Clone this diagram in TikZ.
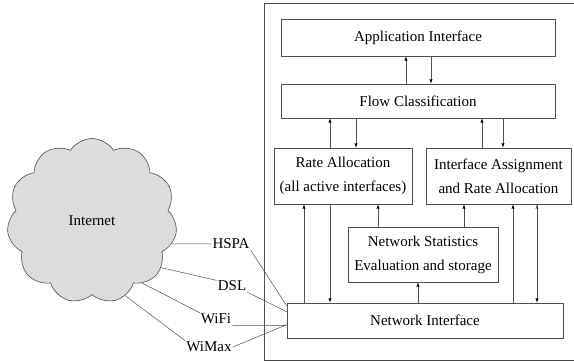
\documentclass[tikz,border=0pt]{standalone}
\usepackage{fontspec}
\setmainfont{Liberation Serif}
\usetikzlibrary{shapes.symbols}
\definecolor{cloudgray}{RGB}{220,220,220}
\definecolor{linegray}{RGB}{80,80,80}
\begin{document}
\begin{tikzpicture}[x=1pt, y=-1pt,
    font=\fontsize{15}{24}\selectfont,
    box/.style = {draw=linegray, line width=.6pt, inner sep=0pt, align=center},
    lbl/.style = {inner sep=1pt},
    link/.style = {draw=linegray, line width=.5pt}
  ]
    \useasboundingbox (0,0) rectangle (574,362);
    % frame of the host
    \draw[linegray, line width=.6pt] (574,3) -- (264,3) -- (264,360) -- (574,360);
    % boxes
    \path
      (418,37.5) node[box, minimum width=274, minimum height=37](app){Application Interface}
      (418,101) node[box, minimum width=274, minimum height=34](flow){Flow Classification}
      (343,176) node[box, minimum width=138, minimum height=56](rate){Rate Allocation\\(all active interfaces)}
      (498.5,176) node[box, minimum width=145, minimum height=56](assign){Interface Assignment\\and Rate Allocation}
      (423,254.5) node[box, minimum width=150, minimum height=55](stats){Network Statistics\\Evaluation and storage}
      (425,320.5) node[box, minimum width=276, minimum height=35](ni){Network Interface}
    ;
    % cloud and links
    \node[cloud, cloud puffs=11, cloud puff arc=115, draw=linegray,
      fill=cloudgray, line width=.6pt, minimum width=170, minimum height=165,
      inner sep=0pt] (net) at (92,221) {Internet};
    \path
      (231,244) node[lbl](hspa){HSPA}
      (232,286) node[lbl](dsl){DSL}
      (216,319) node[lbl](wifi){WiFi}
      (209,347) node[lbl](wimax){WiMax}
    ;
    \path[link]
      (net.-16) -- (hspa.west)
      (net.-34) -- (dsl.160)
      (net.-51) -- (wifi.north west)
      (net.-66) -- (wimax.north west)
      (hspa.south east) -- ([yshift=-3pt]ni.north west)
      (dsl.south east) -- ([yshift=-9pt]ni.north west)
      (wifi.south east) -- (wifi.south east -| ni.west)
      (wimax.east) -- ([yshift=-22pt]ni.north west)
    ;
    % draw arrows
    \path[link, -latex]
      (406,0 |- flow.north) edge (406,0 |- app.south)
      (431,0 |- app.south) edge (431,0 |- flow.north)
      (330,0 |- rate.north) edge (330,0 |- flow.south)
      (356,0 |- flow.south) edge (356,0 |- rate.north)
      (482,0 |- assign.north) edge (482,0 |- flow.south)
      (503,0 |- flow.south) edge (503,0 |- assign.north)
      (304,0 |- ni.north) edge (304,0 |- rate.south)
      (330,0 |- rate.south) edge (330,0 |- ni.north)
      (378,0 |- stats.north) edge (378,0 |- rate.south)
      (464,0 |- stats.north) edge (464,0 |- assign.south)
      (418,0 |- ni.north) edge (418,0 |- stats.south)
      (513,0 |- ni.north) edge (513,0 |- assign.south)
      (537,0 |- assign.south) edge (537,0 |- ni.north)
    ;
  \end{tikzpicture}
\end{document}
